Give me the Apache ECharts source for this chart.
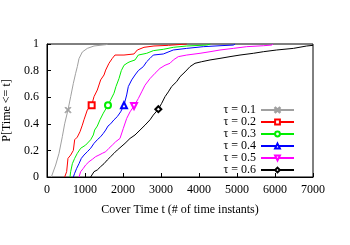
<!DOCTYPE html>
<html><head><meta charset="utf-8">
<script src="https://cdn.jsdelivr.net/npm/echarts@6/dist/echarts.min.js"></script>
<style>html,body{margin:0;padding:0;background:#fff}#c{width:350px;height:245px}</style>
</head><body><div id="c"></div>
<script>
var seriesNames = ['τ = 0.1','τ = 0.2','τ = 0.3','τ = 0.4','τ = 0.5','τ = 0.6'];
var xTicks = [0,1000,2000,3000,4000,5000,6000,7000];
var yTicks = [0,0.2,0.4,0.6,0.8,1];
var tau01 = [[114,0],[228,0.09],[316,0.178],[403,0.303],[465,0.40],[552,0.504],[623,0.604],[693,0.704],[754,0.78],[798,0.83],[842,0.89],[930,0.94],[1061,0.967],[1237,0.985],[1544,0.995],[1600,1]];
var tau02 = [[465,0],[517,0.04],[552,0.14],[623,0.165],[693,0.20],[728,0.28],[798,0.30],[868,0.34],[930,0.39],[973,0.43],[1061,0.504],[1175,0.54],[1237,0.604],[1324,0.654],[1412,0.73],[1500,0.767],[1544,0.804],[1631,0.855],[1719,0.892],[1789,0.917],[2026,0.917],[2289,0.925],[2377,0.955],[2552,0.975],[2815,0.985],[3200,0.99],[3680,1]];
var tau03 = [[605,0],[623,0.04],[667,0.10],[728,0.14],[798,0.178],[886,0.216],[1017,0.24],[1149,0.28],[1219,0.316],[1254,0.353],[1324,0.383],[1394,0.43],[1482,0.48],[1605,0.54],[1675,0.58],[1763,0.63],[1815,0.68],[1894,0.74],[1956,0.80],[2026,0.84],[2131,0.86],[2185,0.867],[2316,0.88],[2403,0.917],[2623,0.93],[2798,0.95],[3061,0.96],[3324,0.975],[3677,0.985],[4203,0.992],[4300,1]];
var tau04 = [[693,0],[728,0.028],[781,0.065],[842,0.10],[903,0.14],[973,0.165],[1061,0.19],[1149,0.216],[1237,0.253],[1324,0.28],[1412,0.303],[1482,0.328],[1544,0.353],[1605,0.383],[1675,0.40],[1763,0.43],[1850,0.454],[1938,0.49],[2026,0.54],[2097,0.617],[2140,0.68],[2229,0.73],[2316,0.767],[2403,0.80],[2535,0.83],[2623,0.867],[2711,0.892],[2798,0.917],[3061,0.925],[3324,0.955],[3677,0.967],[4114,0.98],[4553,0.987],[4904,0.992],[4950,1]];
var tau05 = [[842,0],[886,0.04],[956,0.065],[1017,0.09],[1105,0.115],[1193,0.133],[1280,0.153],[1368,0.165],[1456,0.178],[1544,0.19],[1631,0.216],[1719,0.24],[1807,0.265],[1921,0.29],[2009,0.366],[2097,0.44],[2185,0.49],[2290,0.534],[2403,0.59],[2491,0.64],[2579,0.69],[2711,0.74],[2843,0.78],[2974,0.817],[3106,0.84],[3237,0.855],[3324,0.88],[3456,0.905],[3677,0.917],[4027,0.93],[4290,0.942],[4553,0.955],[4904,0.967],[5256,0.98],[5693,0.987],[5913,0.992],[5950,1]];
var tau06 = [[1149,0],[1193,0.015],[1237,0.04],[1324,0.053],[1412,0.078],[1500,0.10],[1587,0.128],[1675,0.153],[1763,0.178],[1850,0.203],[1921,0.22],[2053,0.253],[2185,0.29],[2316,0.316],[2448,0.353],[2579,0.39],[2711,0.43],[2798,0.466],[2930,0.51],[3018,0.554],[3106,0.604],[3193,0.64],[3280,0.68],[3412,0.717],[3500,0.754],[3632,0.79],[3764,0.83],[3895,0.855],[4071,0.867],[4290,0.88],[4553,0.892],[4816,0.905],[5079,0.917],[5430,0.93],[5693,0.942],[6045,0.955],[6483,0.967],[6834,0.985],[7000,0.99]];
var allData = [tau01,tau02,tau03,tau04,tau05,tau06];
var markerIndex = [5,11,13,18,17,18];
var colors = ['#a0a0a0','#ff0000','#00ee00','#0000ff','#ff00ff','#000000'];
var symbols = ['path://M0,1L1,0L5,4L9,0L10,1L6,5L10,9L9,10L5,6L1,10L0,9L4,5Z','emptyRect','emptyCircle','emptyTriangle','emptyTriangle','emptyDiamond'];
var rotates = [0,0,0,0,180,0];
var FONT = 'Liberation Serif';

var series = allData.map(function(d, i){
  return {
    name: seriesNames[i], type: 'line', data: d,
    symbol: symbols[i], symbolRotate: rotates[i], showAllSymbol: true,
    symbolSize: function(v, p){ return p.dataIndex === markerIndex[i] ? 6 : 0; },
    lineStyle: {color: colors[i], width: 1},
    itemStyle: {color: colors[i], borderColor: colors[i], borderWidth: 1},
    emphasis: {disabled: true}, z: 3 + i
  };
});

var chart = echarts.init(document.getElementById('c'));
chart.setOption({
  animation: false,
  color: colors,
  grid: {left: 47, right: 37, top: 44, bottom: 68, show: true, borderColor: '#000', borderWidth: 1, backgroundColor: 'transparent', containLabel: false, outerBoundsMode: 'none'},
  legend: {
    orient: 'vertical', right: 50, top: 99, align: 'right', itemGap: 0,
    itemWidth: 33, itemHeight: 6,
    textStyle: {fontFamily: FONT, fontSize: 12, color: '#000', lineHeight: 12},
    data: seriesNames
  },
  xAxis: {
    type: 'value', min: 0, max: 7000, interval: 1000,
    name: 'Cover Time t (# of time instants)', nameLocation: 'middle', nameGap: 27,
    nameTextStyle: {fontFamily: FONT, fontSize: 12, color: '#000'},
    axisLine: {show: true, lineStyle: {color: '#000'}},
    axisTick: {show: true, inside: true, length: 4, lineStyle: {color: '#000'}},
    axisLabel: {fontFamily: FONT, fontSize: 12, color: '#000', margin: 7,
      formatter: function(v){ return xTicks.indexOf(v) >= 0 ? String(v) : ''; }},
    splitLine: {show: false}
  },
  yAxis: {
    type: 'value', min: 0, max: 1, interval: 0.2,
    name: 'P[Time <= t]', nameLocation: 'middle', nameGap: 25,
    nameTextStyle: {fontFamily: FONT, fontSize: 12, color: '#000'},
    axisLine: {show: true, lineStyle: {color: '#000'}},
    axisTick: {show: true, inside: true, length: 4, lineStyle: {color: '#000'}},
    axisLabel: {fontFamily: FONT, fontSize: 12, color: '#000', margin: 8,
      formatter: function(v){ var r = Math.round(v*10)/10; return yTicks.indexOf(r) >= 0 ? String(r) : ''; }},
    splitLine: {show: false}
  },
  series: series
});
</script></body></html>
